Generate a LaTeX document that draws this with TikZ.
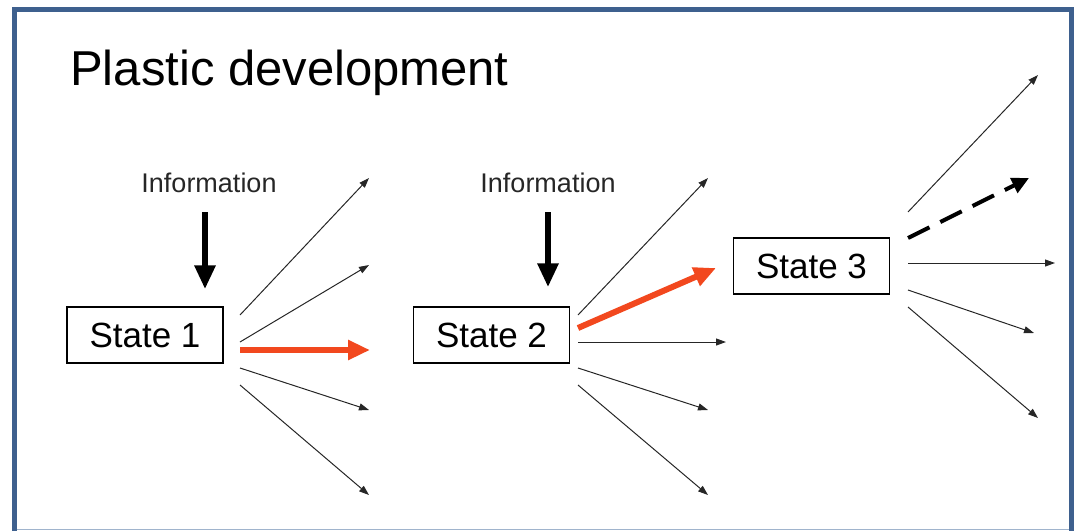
\documentclass[tikz,border=0pt]{standalone}
\usepackage{fontspec}
\setmainfont{Liberation Sans}
\usepackage{xcolor}
\usetikzlibrary{arrows.meta, positioning}

\definecolor{frameblue}{RGB}{62,96,142}
\definecolor{framelight}{RGB}{160,180,205}
\definecolor{pickred}{RGB}{242,72,30}

\begin{document}
\begin{tikzpicture}[x=1pt, y=-1pt,
    state/.style = {draw, line width=1.5pt, minimum width=156pt, minimum height=56pt, inner sep=0pt, font=\fontsize{35}{40}\selectfont},
    info/.style = {inner sep=0pt, text=black!85, font=\fontsize{27}{32}\selectfont},
    branch/.style = {line width=1pt, black!85, -{Triangle[length=10pt, width=7pt]}},
    push/.style = {line width=6pt, -{Triangle[length=24pt, width=20pt]}},
    chosen/.style = {line width=6pt, pickred, -{Triangle[length=22pt, width=19pt]}},
    guess/.style = {line width=4pt, dash pattern=on 24pt off 12pt, -{Triangle[length=17pt, width=16pt]}}]
    \useasboundingbox (0,0) rectangle (1074,531);

    % frame
    \draw[frameblue, line width=5pt] (14.5,531) -- (14.5,9.5) -- (1071.5,9.5) -- (1071.5,531);
    \draw[framelight, line width=1.5pt] (17,529.5) -- (1069,529.5);

    % title
    \node[anchor=base west, inner sep=0pt, font=\fontsize{49}{56}\selectfont] (title) at (70,85) {Plastic development};

    % states
    \node[state] (s1) at (145,335) {State 1};
    \node[state] (s2) at (491.5,335) {State 2};
    \node[state] (s3) at (811.5,266) {State 3};

    % information
    \node[info] (i1) at (209,183) {Information};
    \node[info] (i2) at (548,183) {Information};
    \draw[push, shorten <=19pt, shorten >=17pt] ([xshift=-4pt]i1.south) -- ([xshift=-4pt]i1.south |- s1.north);
    \draw[push, shorten <=19pt, shorten >=19pt] (i2.south) -- (i2.south |- s2.north);

    % branches of state 1
    \coordinate (a1) at (240,315); \coordinate (b1) at (369,178);
    \coordinate (a2) at (240,342); \coordinate (b2) at (369,265);
    \coordinate (a3) at (240,350); \coordinate (b3) at (370,350);
    \coordinate (a4) at (240,368); \coordinate (b4) at (369,410);
    \coordinate (a5) at (240,385); \coordinate (b5) at (369,495);
    \draw[branch] (a1) -- (b1);
    \draw[branch] (a2) -- (b2);
    \draw[chosen] (a3) -- (b3);
    \draw[branch] (a4) -- (b4);
    \draw[branch] (a5) -- (b5);

    % branches of state 2
    \coordinate (c1) at (578,315); \coordinate (d1) at (708,178);
    \coordinate (c2) at (578,328); \coordinate (d2) at (716,268);
    \coordinate (c3) at (578,342); \coordinate (d3) at (726,342);
    \coordinate (c4) at (578,368); \coordinate (d4) at (708,410);
    \coordinate (c5) at (578,385); \coordinate (d5) at (708,495);
    \draw[branch] (c1) -- (d1);
    \draw[chosen] (c2) -- (d2);
    \draw[branch] (c3) -- (d3);
    \draw[branch] (c4) -- (d4);
    \draw[branch] (c5) -- (d5);

    % branches of state 3
    \coordinate (e1) at (908,212); \coordinate (f1) at (1038,75);
    \coordinate (e2) at (908,238); \coordinate (f2) at (1029,178);
    \coordinate (e3) at (908,263); \coordinate (f3) at (1055,263);
    \coordinate (e4) at (908,290); \coordinate (f4) at (1034,333);
    \coordinate (e5) at (908,307); \coordinate (f5) at (1038,418);
    \draw[branch] (e1) -- (f1);
    \draw[guess] (e2) -- (f2);
    \draw[branch] (e3) -- (f3);
    \draw[branch] (e4) -- (f4);
    \draw[branch] (e5) -- (f5);
\end{tikzpicture}
\end{document}
